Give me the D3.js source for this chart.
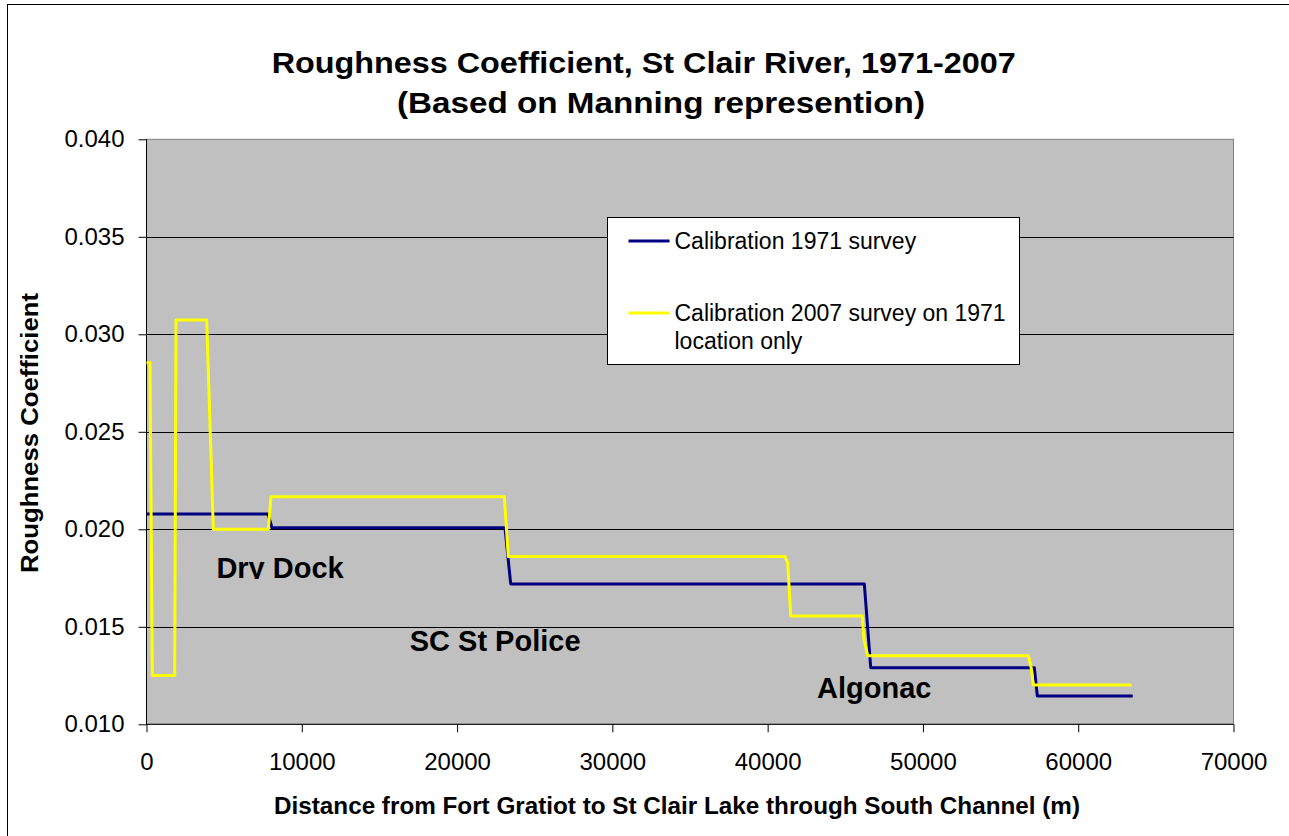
<!DOCTYPE html>
<html>
<head>
<meta charset="utf-8">
<script src="https://cdn.jsdelivr.net/npm/d3@7"></script>
<style>
  body { margin: 0; background: #fff; }
  svg { display: block; font-family: Arial, "Liberation Sans", sans-serif; }
</style>
</head>
<body>
<script>
// distance along the river (m) and roughness values
const dist1971 = [0, 7825, 8082, 23084, 23454, 46226, 46638, 57174, 57367, 63510];
const n1971 = [0.02078, 0.02078, 0.02008, 0.02008, 0.0172, 0.0172, 0.0129, 0.0129, 0.01145, 0.01145];

const dist2007 = [0, 225, 374, 1816, 1900, 3877, 4302, 7844, 8018, 23042, 23300,
  41119, 41293, 41486, 46097, 46207, 46445, 56788, 56962, 57110, 63447];
const n2007 = [0.02854, 0.02854, 0.0125, 0.0125, 0.03073, 0.03073, 0.0200, 0.0200, 0.02167, 0.02167, 0.0186,
  0.0186, 0.01828, 0.01556, 0.01556, 0.01432, 0.01352, 0.01352, 0.01295, 0.01202, 0.01202];

const xTicks = [0, 10000, 20000, 30000, 40000, 50000, 60000, 70000];
const yTicks = [0.010, 0.015, 0.020, 0.025, 0.030, 0.035, 0.040];

const places = [
  { name: "Dry Dock", x: 4500, y: 0.0175 },
  { name: "SC St Police", x: 16950, y: 0.01377 },
  { name: "Algonac", x: 43180, y: 0.01135 }
];

const seriesNames = ["Calibration 1971 survey", "Calibration 2007 survey on 1971|location only"];
const colors = ["#000080", "#ffff00"];

const width = 1289, height = 836;

const svg = d3.select("body").append("svg")
  .attr("width", width)
  .attr("height", height);

// outer chart border
svg.append("rect")
  .attr("x", 7.5).attr("y", 4.5)
  .attr("width", 1290).attr("height", 850)
  .attr("fill", "#fff").attr("stroke", "#000");

const x = d3.scaleLinear().domain([0, 70000]).range([146.5, 1233.5]);
const y = d3.scaleLinear().domain([0.010, 0.040]).range([724.3, 139.3]);

// plot area
svg.append("rect")
  .attr("x", x(0)).attr("y", y(0.040))
  .attr("width", x(70000) - x(0)).attr("height", y(0.010) - y(0.040))
  .attr("fill", "#c0c0c0").attr("stroke", "#808080");

// gridlines
svg.append("g")
  .selectAll("line")
  .data(yTicks.slice(1, -1))
  .join("line")
  .attr("x1", x(0)).attr("x2", x(70000))
  .attr("y1", d => Math.round(y(d)) + 0.5).attr("y2", d => Math.round(y(d)) + 0.5)
  .attr("stroke", "#000").attr("stroke-width", 1);

// axes
const yAxis = svg.append("g")
  .attr("transform", `translate(${x(0)},0)`)
  .call(d3.axisLeft(y).tickValues(yTicks).tickFormat(d3.format(".3f")).tickSize(8).tickPadding(14));

const xAxis = svg.append("g")
  .attr("transform", `translate(0,${y(0.010)})`)
  .call(d3.axisBottom(x).tickValues(xTicks).tickFormat(d3.format("d")).tickSize(8).tickPadding(21));

[yAxis, xAxis].forEach(a => {
  a.selectAll(".domain").attr("stroke", "#000");
  a.selectAll(".tick line").attr("stroke", "#000");
  a.selectAll("text").attr("font-size", 24).attr("fill", "#000")
    .attr("font-family", "Arial, 'Liberation Sans', sans-serif");
});
xAxis.select(".domain").attr("d", `M${x(0)},0H${x(70000)}`);
yAxis.select(".domain").attr("d", `M0,${y(0.040)}V${y(0.010)}`);

// series lines
const line = d3.line().x(d => x(d[0])).y(d => y(d[1]));

svg.append("path")
  .datum(d3.zip(dist1971, n1971))
  .attr("d", line)
  .attr("fill", "none")
  .attr("stroke", colors[0])
  .attr("stroke-width", 3)
  .attr("stroke-linejoin", "round");

svg.append("path")
  .datum(d3.zip(dist2007, n2007))
  .attr("d", line)
  .attr("fill", "none")
  .attr("stroke", colors[1])
  .attr("stroke-width", 3)
  .attr("stroke-linejoin", "round");

// place labels (Dry Dock is clipped at its baseline as in the source)
svg.append("clipPath").attr("id", "labclip")
  .append("rect").attr("x", 0).attr("y", 0).attr("width", width).attr("height", 579);

svg.append("g")
  .selectAll("text")
  .data(places)
  .join("text")
  .attr("x", d => x(d.x))
  .attr("y", d => y(d.y))
  .attr("clip-path", (d, i) => i === 0 ? "url(#labclip)" : null)
  .attr("font-size", 29)
  .attr("font-weight", "bold")
  .text(d => d.name);

// legend
const legend = svg.append("g").attr("transform", "translate(607.5,217.5)");
legend.append("rect")
  .attr("width", 412).attr("height", 147)
  .attr("fill", "#fff").attr("stroke", "#000");

const legendY = [23.5, 95.5];
seriesNames.forEach((name, i) => {
  legend.append("line")
    .attr("x1", 21).attr("x2", 62)
    .attr("y1", legendY[i]).attr("y2", legendY[i])
    .attr("stroke", colors[i]).attr("stroke-width", 3);
  const t = legend.append("text")
    .attr("x", 67).attr("y", legendY[i] + 7.5)
    .attr("font-size", 23);
  name.split("|").forEach((part, j) => {
    t.append("tspan").attr("x", 67).attr("dy", j === 0 ? 0 : 28).text(part);
  });
});

// titles
svg.append("text")
  .attr("x", 271.7).attr("y", 72.5)
  .attr("font-size", 29).attr("font-weight", "bold")
  .attr("textLength", 744).attr("lengthAdjust", "spacingAndGlyphs")
  .text("Roughness Coefficient, St Clair River, 1971-2007");

svg.append("text")
  .attr("x", 397).attr("y", 113)
  .attr("font-size", 29).attr("font-weight", "bold")
  .attr("textLength", 528).attr("lengthAdjust", "spacingAndGlyphs")
  .text("(Based on Manning represention)");

svg.append("text")
  .attr("x", 274).attr("y", 813.5)
  .attr("font-size", 23).attr("font-weight", "bold")
  .attr("textLength", 806).attr("lengthAdjust", "spacingAndGlyphs")
  .text("Distance from Fort Gratiot to St Clair Lake through South Channel (m)");

svg.append("text")
  .attr("transform", "translate(38,573) rotate(-90)")
  .attr("font-size", 23).attr("font-weight", "bold")
  .attr("textLength", 280).attr("lengthAdjust", "spacingAndGlyphs")
  .text("Roughness Coefficient");
</script>
</body>
</html>
